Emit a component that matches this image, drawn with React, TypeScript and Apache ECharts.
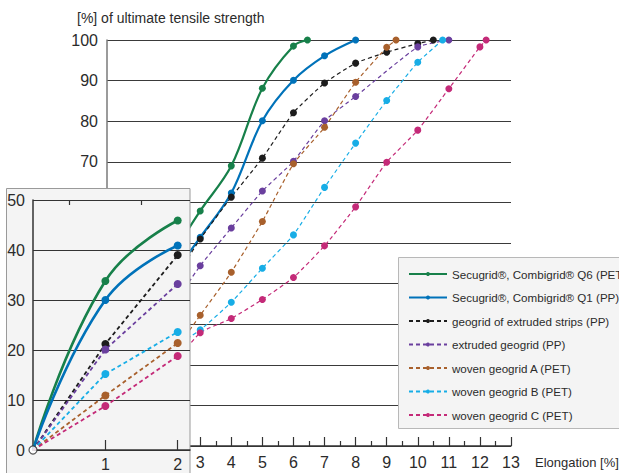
import React, { useEffect, useRef } from "react";
import * as echarts from "echarts";

// ---------- data ----------
const seriesNames = [
  "Secugrid®, Combigrid® Q6 (PET)",
  "Secugrid®, Combigrid® Q1 (PP)",
  "geogrid of extruded strips (PP)",
  "extruded geogrid (PP)",
  "woven geogrid A (PET)",
  "woven geogrid B (PET)",
  "woven geogrid C (PET)",
];
const seriesColors = ["#17804a", "#0072b9", "#1c1c1c", "#6a3f9e", "#a8602c", "#17ade6", "#c42a78"];
const seriesSolid = [true, true, false, false, false, false, false];

// inset (0–2 % elongation)
const insetX = [0, 1, 2];
const q6Inset = [0, 33.8, 45.9];
const q1Inset = [0, 30.0, 40.9];
const stripsInset = [0, 21.2, 39.0];
const extrudedInset = [0, 20.1, 33.2];
const wovenAInset = [0, 10.9, 21.4];
const wovenBInset = [0, 15.2, 23.6];
const wovenCInset = [0, 8.8, 18.8];

// main chart (from 2 % elongation)
const q6X = [2, 3, 4, 5, 6, 6.45];
const q6Y = [45.9, 57.9, 69.0, 88.1, 98.5, 100];
const q1X = [2, 3, 4, 5, 6, 7, 8];
const q1Y = [40.9, 51.4, 62.3, 80.1, 90.1, 96.1, 100];
const stripsX = [2, 3, 4, 5, 6, 7, 8, 9, 10, 10.5];
const stripsY = [39.0, 51.0, 61.3, 70.9, 82.1, 89.4, 94.3, 97.0, 99.1, 100];
const extrudedX = [2, 3, 4, 5, 6, 7, 8, 10, 11];
const extrudedY = [33.2, 44.4, 53.7, 62.8, 70.1, 80.1, 86.1, 98.3, 100];
const wovenAX = [2, 3, 4, 5, 6, 7, 8, 9, 9.3];
const wovenAY = [21.4, 32.2, 42.8, 55.3, 69.5, 78.5, 89.6, 98.2, 100];
const wovenBX = [2, 3, 4, 5, 6, 7, 8, 9, 10, 10.8];
const wovenBY = [23.6, 28.6, 35.4, 43.8, 52.0, 63.7, 74.6, 85.1, 94.5, 100];
const wovenCX = [2, 3, 4, 5, 6, 7, 8, 9, 10, 11, 12, 12.2];
const wovenCY = [18.8, 27.9, 31.4, 36.1, 41.5, 49.3, 58.9, 69.9, 77.8, 88.0, 98.3, 100];

const mainXs = [q6X, q1X, stripsX, extrudedX, wovenAX, wovenBX, wovenCX];
const mainYs = [q6Y, q1Y, stripsY, extrudedY, wovenAY, wovenBY, wovenCY];
const insetYs = [q6Inset, q1Inset, stripsInset, extrudedInset, wovenAInset, wovenBInset, wovenCInset];

const mainXTicks = [3, 4, 5, 6, 7, 8, 9, 10, 11, 12, 13];
const mainYTicks = [70, 80, 90, 100];

const FONT = "'Liberation Sans', Arial, sans-serif";
const TXT = "#2b2b2b";

export default function App() {
  const ref = useRef<HTMLDivElement>(null);

  useEffect(() => {
    if (!ref.current) return;
    const chart = echarts.init(ref.current, undefined, { renderer: "svg" });

    const zip = (xs: number[], ys: number[]) => xs.map((x, i) => [x, ys[i]]);

    const mainSeries = seriesNames.map((name, i) => ({
      type: "line",
      name,
      xAxisIndex: 0,
      yAxisIndex: 0,
      data: zip(mainXs[i], mainYs[i]),
      smooth: seriesSolid[i] ? 0.35 : 0.15,
      symbol: "circle",
      symbolSize: 7,
      color: seriesColors[i],
      itemStyle: { color: seriesColors[i] },
      lineStyle: {
        color: seriesColors[i],
        width: seriesSolid[i] ? 2.2 : 1.2,
        type: seriesSolid[i] ? "solid" : [4, 3],
      },
      z: 2,
    }));

    const insetSeries = seriesNames.map((name, i) => ({
      type: "line",
      name,
      xAxisIndex: 1,
      yAxisIndex: 1,
      data: insetX.map((x, k) =>
        k === 0 ? { value: [x, insetYs[i][k]], symbol: "none" } : [x, insetYs[i][k]]
      ),
      smooth: seriesSolid[i] ? 0.45 : false,
      symbol: "circle",
      symbolSize: 8,
      color: seriesColors[i],
      itemStyle: { color: seriesColors[i] },
      lineStyle: {
        color: seriesColors[i],
        width: seriesSolid[i] ? 2.6 : 1.8,
        type: seriesSolid[i] ? "solid" : [4, 3],
      },
      z: 70,
    }));

    const option: any = {
      animation: false,
      textStyle: { fontFamily: FONT },
      title: [
        {
          text: "[%] of ultimate tensile strength",
          left: 72,
          top: 6,
          textStyle: { fontSize: 14, fontWeight: "normal", color: TXT, fontFamily: FONT },
        },
        {
          text: "Elongation [%]",
          left: 530,
          top: 451,
          textStyle: { fontSize: 13, fontWeight: "normal", color: TXT, fontFamily: FONT },
        },
      ],
      graphic: [
        {
          type: "rect",
          z: 50,
          shape: { x: 6.5, y: 188.5, width: 183.5, height: 300 },
          style: { fill: "#f4f4f4", stroke: "#9a9a9a", lineWidth: 1 },
        },
        {
          type: "rect",
          z: 50,
          shape: { x: 398.5, y: 257.5, width: 260, height: 171 },
          style: { fill: "#f4f4f4", stroke: "#b8b8b8", lineWidth: 1 },
        },
      ],
      legend: {
        orient: "vertical",
        left: 403,
        top: 262,
        z: 60,
        selectedMode: false,
        itemWidth: 38,
        itemHeight: 5,
        itemGap: 9.5,
        data: seriesNames,
        textStyle: { fontSize: 11.6, color: TXT, fontFamily: FONT, lineHeight: 14 },
      },
      grid: [
        { left: 107, top: 40, width: 404, height: 406, containLabel: false },
        { left: 33, top: 200, width: 157, height: 250, containLabel: false },
      ],
      xAxis: [
        {
          gridIndex: 0,
          type: "value",
          min: 0,
          max: 13,
          interval: 1,
          z: 0,
          axisLine: { show: true, lineStyle: { color: "#333", width: 1.5 } },
          axisTick: { show: true, inside: true, length: 9, lineStyle: { color: "#333", width: 1.2 } },
          minorTick: { show: true, splitNumber: 2, length: 5, lineStyle: { color: "#333", width: 1.2 } },
          splitLine: { show: false },
          axisLabel: {
            fontSize: 16,
            color: TXT,
            margin: 8,
            fontFamily: FONT,
            formatter: (v: number) => (mainXTicks.includes(v) ? String(v) : ""),
          },
        },
        {
          gridIndex: 1,
          type: "value",
          min: 0,
          max: 2.17,
          z: 60,
          axisLine: { show: true, lineStyle: { color: "#333", width: 1.5 } },
          axisTick: {
            show: true,
            inside: true,
            length: 10,
            customValues: [1, 2],
            lineStyle: { color: "#333", width: 1.2 },
          },
          splitLine: { show: false },
          axisLabel: {
            fontSize: 16,
            color: TXT,
            margin: 6,
            fontFamily: FONT,
            customValues: [1, 2],
            formatter: (v: number) => (v === 1 || v === 2 ? String(v) : ""),
          },
        },
        {
          gridIndex: 1,
          type: "value",
          min: 0,
          max: 2.17,
          z: 60,
          axisLine: { show: false },
          axisTick: {
            show: true,
            inside: true,
            length: 5,
            customValues: [0.5, 1.5],
            lineStyle: { color: "#333", width: 1.2 },
          },
          splitLine: { show: false },
          axisLabel: { show: false },
        },
      ],
      yAxis: [
        {
          gridIndex: 0,
          type: "value",
          min: 0,
          max: 100,
          interval: 10,
          z: 0,
          axisLine: { show: true, lineStyle: { color: "#7a7a7a", width: 1.5 } },
          axisTick: { show: false },
          splitLine: { show: true, lineStyle: { color: "#3a3a3a", width: 1.2 } },
          axisLabel: {
            fontSize: 16,
            color: TXT,
            margin: 9,
            fontFamily: FONT,
            formatter: (v: number) => (mainYTicks.includes(v) ? String(v) : ""),
          },
        },
        {
          gridIndex: 1,
          type: "value",
          min: 0,
          max: 50,
          interval: 10,
          z: 60,
          axisLine: { show: true, lineStyle: { color: "#333", width: 1.5 } },
          axisTick: { show: false },
          splitLine: { show: true, lineStyle: { color: "#333", width: 1.2 } },
          axisLabel: { fontSize: 16, color: TXT, margin: 8, fontFamily: FONT },
        },
      ],
      series: [
        ...mainSeries,
        ...insetSeries,
        {
          type: "scatter",
          xAxisIndex: 1,
          yAxisIndex: 1,
          data: [[insetX[0], q6Inset[0]]],
          symbol: "circle",
          symbolSize: 8,
          itemStyle: { color: "#ffffff", borderColor: "#333", borderWidth: 1.3 },
          z: 80,
          silent: true,
        },
      ],
    };

    chart.setOption(option);
    return () => chart.dispose();
  }, []);

  return (
    <div
      ref={ref}
      style={{ position: "fixed", left: 0, top: 0, width: 619, height: 473, background: "#fff" }}
    />
  );
}
